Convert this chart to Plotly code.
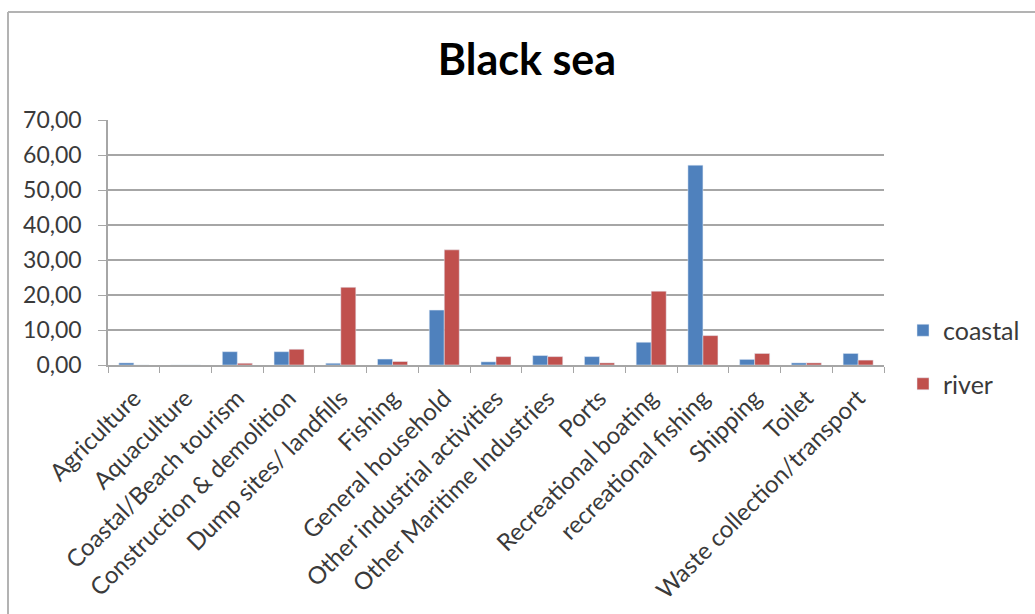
import plotly.graph_objects as go

categories = ["Agriculture", "Aquaculture", "Coastal/Beach tourism", "Construction & demolition",
              "Dump sites/ landfills", "Fishing", "General household", "Other industrial activities",
              "Other Maritime Industries", "Ports", "Recreational boating", "recreational fishing",
              "Shipping", "Toilet", "Waste collection/transport"]
coastal = [0.6, 0.0, 3.8, 3.8, 0.5, 1.7, 15.7, 0.9, 2.7, 2.4, 6.5, 57.1, 1.6, 0.6, 3.3]
river = [0.0, 0.0, 0.5, 4.5, 22.2, 1.0, 32.9, 2.4, 2.4, 0.6, 21.1, 8.4, 3.3, 0.6, 1.4]
y_ticks = [0, 10, 20, 30, 40, 50, 60, 70]
y_tick_labels = ["0,00", "10,00", "20,00", "30,00", "40,00", "50,00", "60,00", "70,00"]

W, H = 1035, 614
L, R, T, B = 108, 151, 120, 249
pw, ph = W - L - R, H - T - B

fig = go.Figure()
fig.add_trace(go.Bar(name="coastal", x=categories, y=coastal, marker_color="#4F81BD",
                     legendgroup="a"))
fig.add_trace(go.Bar(name="river", x=categories, y=river, marker_color="#C0504D",
                     legendgroup="b"))

font = "Lato, 'Open Sans', sans-serif"
fig.update_layout(
    width=W, height=H,
    margin=dict(l=L, r=R, t=T, b=B, autoexpand=False),
    paper_bgcolor="white", plot_bgcolor="white",
    barmode="group", bargap=0.42, bargroupgap=0,
    title=dict(text="<b>Black sea</b>", x=527 / W, xanchor="center", xref="container",
               y=1 - 60 / H, yref="container", yanchor="middle",
               font=dict(family=font, size=43, color="#000000")),
    font=dict(family=font, size=23, color="#3a3a3a"),
    legend=dict(x=(903 - L) / pw, xanchor="left", y=(H - B - 357) / ph, yanchor="middle",
                font=dict(size=25, color="#3a3a3a"), tracegroupgap=18, itemwidth=30,
                bgcolor="rgba(0,0,0,0)"),
    showlegend=True,
)
fig.update_xaxes(type="category", showline=True, linecolor="#a6a6a6", linewidth=1.5,
                 ticks="outside", tickson="boundaries", ticklen=6, tickcolor="#a6a6a6",
                 tickangle=-45, tickfont=dict(size=24, color="#3a3a3a"), showgrid=False,
                 ticklabelstandoff=8, mirror=False)
fig.update_yaxes(range=[0, 70], tickvals=y_ticks, ticktext=y_tick_labels,
                 showline=True, linecolor="#a6a6a6", linewidth=1.5,
                 ticks="outside", ticklen=8, tickcolor="#a6a6a6",
                 showgrid=True, gridcolor="#a6a6a6", gridwidth=1.5,
                 ticklabelstandoff=12,
                 tickfont=dict(size=23, color="#3a3a3a"), zeroline=False)

x_left = (8 - L) / pw
x_right = (W - L) / pw
y_top = (H - B - 12) / ph
y_bot = (H - B - H) / ph
fig.add_shape(type="line", xref="paper", yref="paper", x0=x_left, x1=x_right, y0=y_top, y1=y_top,
              line=dict(color="#b3b3b3", width=2))
fig.add_shape(type="line", xref="paper", yref="paper", x0=x_left, x1=x_left, y0=y_top, y1=y_bot - 0.1,
              line=dict(color="#b3b3b3", width=2))

fig.write_html("out.html")
